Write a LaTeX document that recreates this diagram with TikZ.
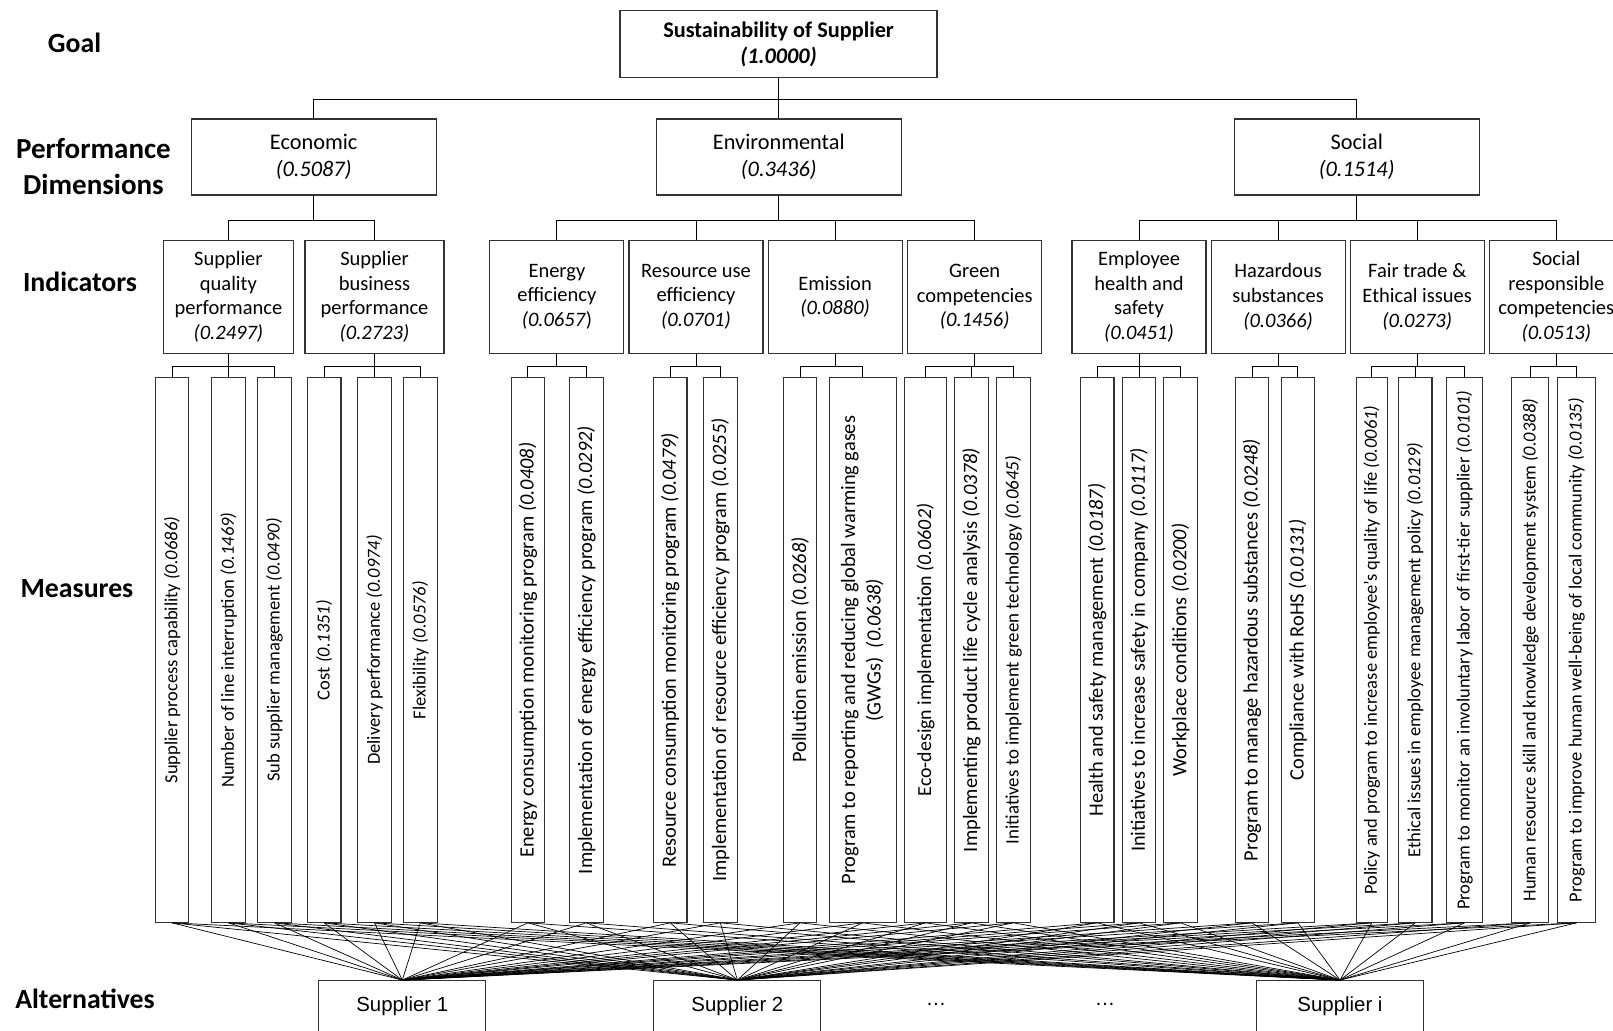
\documentclass[tikz,border=0pt]{standalone}
\usepackage{fontspec}
\setmainfont{Carlito}
\newfontfamily\arialfont{Liberation Sans}
\usepackage{graphicx}
\usetikzlibrary{positioning}

\newcommand{\mlabel}[1]{\rotatebox{90}{#1}}

\begin{document}
\begin{tikzpicture}[
  x=1pt,y=-1pt,
  every node/.style={align=center,inner sep=0pt},
  box/.style={draw=black!80,line width=1.1pt,fill=white},
  goalbox/.style={box,minimum width=317pt,minimum height=67pt,font=\fontsize{22.3}{25.7}\selectfont\bfseries},
  dimbox/.style={box,minimum width=245pt,minimum height=76pt,font=\fontsize{22.3}{26.7}\selectfont},
  indbox/.style={box,minimum width=134pt,minimum height=113pt,font=\fontsize{20.5}{24.8}\selectfont},
  meas/.style={box,minimum width=33.5pt,minimum height=544.4pt,font=\fontsize{18.5}{24}\selectfont},
  measbig/.style={meas,font=\fontsize{20.4}{25.7}\selectfont},
  alt/.style={box,minimum width=167pt,minimum height=50.6pt,font=\arialfont\fontsize{20.4}{24}\selectfont},
  level/.style={font=\fontsize{27.8}{36}\selectfont\bfseries},
  link/.style={draw=black,line width=1pt},
  fan/.style={draw=black,line width=0.7pt}
]
\useasboundingbox (0,0) rectangle (1613,1030);

% level names
\node[level] (lgoal) at (74.5,43) {Goal};
\node[level,font=\fontsize{29}{36}\selectfont\bfseries] (ldim) at (93.5,167) {Performance\\Dimensions};
\node[level] (lind) at (80,282) {Indicators};
\node[level] (lmeas) at (77,589) {Measures};
\node[level] (lalt) at (85,999) {Alternatives};

% goal and dimensions
\node[goalbox] (goal) at (778.5,44.3) {Sustainability of Supplier\\\textit{(1.0000)}};
\node[dimbox] (econ) at (313.7,157) {Economic\\\textit{(0.5087)}};
\node[dimbox] (env) at (778.8,157) {Environmental\\\textit{(0.3436)}};
\node[dimbox] (soc) at (1356.7,157) {Social\\\textit{(0.1514)}};

% indicators
\node[indbox,minimum width=130pt] (sqp) at (228.4,296.8) {Supplier\\quality\\performance\\\textit{(0.2497)}};
\node[indbox,minimum width=139pt] (sbp) at (374.5,296.8) {Supplier\\business\\performance\\\textit{(0.2723)}};
\node[indbox] (energy) at (556.9,296.8) {Energy\\efficiency\\\textit{(0.0657})};
\node[indbox,right=4pt of energy] (resource) {Resource use\\efficiency\\\textit{(0.0701)}};
\node[indbox,right=4pt of resource] (emission) {Emission\\\textit{(0.0880)}};
\node[indbox,right=4.5pt of emission] (green) {Green\\competencies\\\textit{(0.1456)}};
\node[indbox] (health) at (1139,296.8) {Employee\\health and\\safety\\\textit{(0.0451)}};
\node[indbox,right=4pt of health] (hazard) {Hazardous\\substances\\\textit{(0.0366)}};
\node[indbox,right=4pt of hazard] (fair) {Fair trade \&\\Ethical issues\\\textit{(0.0273)}};
\node[indbox,right=4pt of fair] (socresp) {Social\\responsible\\competencies\\\textit{(0.0513)}};

% measures
\node[meas] (m1) at (172.1,650.1) {\mlabel{Supplier process capability \textit{(0.0686)}}};
\node[meas] (m2) at (228.5,650.1) {\mlabel{Number of line interruption \textit{(0.1469)}}};
\node[meas] (m3) at (274.5,650.1) {\mlabel{Sub supplier management \textit{(0.0490)}}};
\node[meas] (m4) at (324.2,650.1) {\mlabel{Cost \textit{(0.1351)}}};
\node[meas] (m5) at (374.5,650.1) {\mlabel{Delivery performance \textit{(0.0974)}}};
\node[meas] (m6) at (420.3,650.1) {\mlabel{Flexibility \textit{(0.0576)}}};
\node[measbig] (m7) at (527.9,650.1) {\mlabel{Energy consumption monitoring program \textit{(0.0408)}}};
\node[measbig] (m8) at (586.3,650.1) {\mlabel{Implementation of energy efficiency program \textit{(0.0292)}}};
\node[measbig] (m9) at (670.2,650.1) {\mlabel{Resource consumption monitoring program \textit{(0.0479)}}};
\node[measbig] (m10) at (720.3,650.1) {\mlabel{Implementation of resource efficiency program \textit{(0.0255)}}};
\node[measbig] (m11) at (800,650.1) {\mlabel{Pollution emission \textit{(0.0268)}}};
\node[measbig,minimum width=66.7pt] (m12) at (862.7,650.1) {\mlabel{\begin{tabular}{@{}c@{}}Program to reporting and reducing global warming gases\\(GWGs)\ \ \textit{(0.0638)}\end{tabular}}};
\node[meas,minimum width=41.6pt,font=\fontsize{19.9}{24}\selectfont] (m13) at (925.5,650.1) {\mlabel{Eco-design implementation \textit{(0.0602)}}};
\node[measbig] (m14) at (971.5,650.1) {\mlabel{Implementing product life cycle analysis \textit{(0.0378)}}};
\node[meas,font=\fontsize{18.9}{24}\selectfont] (m15) at (1013.3,650.1) {\mlabel{Initiatives to implement green technology \textit{(0.0645)}}};
\node[measbig] (m16) at (1097.2,650.1) {\mlabel{Health and safety management \textit{(0.0187)}}};
\node[measbig] (m17) at (1139,650.1) {\mlabel{Initiatives to increase safety in company \textit{(0.0117)}}};
\node[measbig] (m18) at (1180.6,650.1) {\mlabel{Workplace conditions \textit{(0.0200)}}};
\node[measbig] (m19) at (1252,650.1) {\mlabel{Program to manage hazardous substances \textit{(0.0248)}}};
\node[measbig] (m20) at (1297.9,650.1) {\mlabel{Compliance with RoHS \textit{(0.0131)}}};
\node[meas,minimum width=30.5pt] (m21) at (1371.8,650.1) {\mlabel{Policy and program to increase employee’s quality of life \textit{(0.0061)}}};
\node[meas] (m22) at (1415.2,650.1) {\mlabel{Ethical issues in employee management policy \textit{(0.0129)}}};
\node[meas,minimum width=35.5pt] (m23) at (1464.4,650.1) {\mlabel{Program to monitor an involuntary labor of first-tier supplier \textit{(0.0101)}}};
\node[meas,minimum width=37pt] (m24) at (1530.4,650.1) {\mlabel{Human resource skill and knowledge development system \textit{(0.0388)}}};
\node[meas,minimum width=37.5pt] (m25) at (1576.5,650.1) {\mlabel{Program to improve human well-being of local community \textit{(0.0135)}}};

% alternatives
\node[alt] (s1) at (402.3,1005.9) {Supplier 1};
\node[alt] (s2) at (737.4,1005.9) {Supplier 2};
\node[alt] (si) at (1340,1005.9) {Supplier i};
\node[font=\arialfont\fontsize{20.4}{24}\selectfont] (dots1) at (936,1004) {…};
\node[font=\arialfont\fontsize{20.4}{24}\selectfont] (dots2) at (1105,1004) {…};

% tree links
\foreach \c in {econ,env,soc}
  \draw[link] (goal.south) -- ++(0,20.7) -| (\c.north);
\foreach \c in {sqp,sbp}
  \draw[link] (econ.south) -- ++(0,25) -| (\c.north);
\foreach \c in {energy,resource,emission,green}
  \draw[link] (env.south) -- ++(0,25) -| (\c.north);
\foreach \c in {health,hazard,fair,socresp}
  \draw[link] (soc.south) -- ++(0,25) -| (\c.north);

\foreach \p/\kids in {sqp/{m1,m2,m3},sbp/{m4,m5,m6},energy/{m7,m8},resource/{m9,m10},
    emission/{m11,m12},green/{m13,m14,m15},health/{m16,m17,m18},hazard/{m19,m20},
    fair/{m21,m22,m23},socresp/{m24,m25}}
  \foreach \c in \kids
    \draw[link] (\p.south) -- ++(0,12.4) -| (\c.north);

% every measure to every supplier
\foreach \m in {1,...,25}
  \foreach \s in {s1,s2,si}
    \draw[fan] (m\m.south) -- (\s.north);
\end{tikzpicture}
\end{document}
